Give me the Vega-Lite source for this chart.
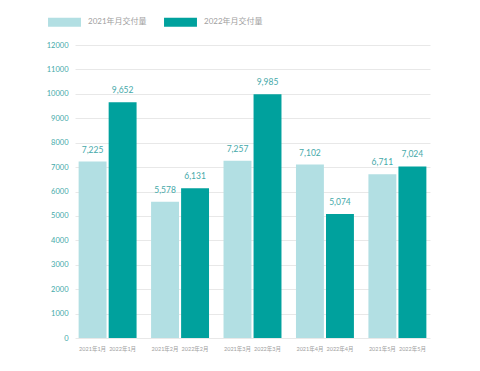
{
  "$schema": "https://vega.github.io/schema/vega-lite/v6.json",
  "width": 355,
  "height": 293,
  "autosize": {"type": "none"},
  "padding": {"left": 75, "top": 45, "right": 50, "bottom": 33},
  "background": "white",
  "config": {
    "font": "Lato, Noto Sans CJK SC",
    "view": {"stroke": null},
    "axisY": {
      "title": null, "format": "d", "ticks": false, "domain": false, "labelOverlap": false,
      "labelColor": "#45a9a9", "labelFontSize": 7.5, "labelPadding": 7,
      "gridColor": "#e8e8e8", "gridWidth": 1
    }
  },
  "data": {
    "values": [
      {"month": "1月", "series": "2021年月交付量", "label": "2021年1月", "value": 7225},
      {"month": "1月", "series": "2022年月交付量", "label": "2022年1月", "value": 9652},
      {"month": "2月", "series": "2021年月交付量", "label": "2021年2月", "value": 5578},
      {"month": "2月", "series": "2022年月交付量", "label": "2022年2月", "value": 6131},
      {"month": "3月", "series": "2021年月交付量", "label": "2021年3月", "value": 7257},
      {"month": "3月", "series": "2022年月交付量", "label": "2022年3月", "value": 9985},
      {"month": "4月", "series": "2021年月交付量", "label": "2021年4月", "value": 7102},
      {"month": "4月", "series": "2022年月交付量", "label": "2022年4月", "value": 5074},
      {"month": "5月", "series": "2021年月交付量", "label": "2021年5月", "value": 6711},
      {"month": "5月", "series": "2022年月交付量", "label": "2022年5月", "value": 7024}
    ]
  },
  "encoding": {
    "x": {
      "field": "month", "type": "nominal", "sort": null,
      "scale": {"paddingInner": 0.2, "paddingOuter": 0.05},
      "axis": null
    },
    "xOffset": {
      "field": "series", "type": "nominal",
      "scale": {"paddingInner": 0.07, "paddingOuter": 0}
    }
  },
  "layer": [
    {
      "mark": {"type": "bar"},
      "encoding": {
        "y": {
          "field": "value", "type": "quantitative",
          "scale": {"domain": [0, 12000], "nice": false},
          "axis": {"values": [0,1000,2000,3000,4000,5000,6000,7000,8000,9000,10000,11000,12000]}
        },
        "color": {
          "field": "series", "type": "nominal",
          "scale": {"domain": ["2021年月交付量", "2022年月交付量"], "range": ["#b2dfe3", "#00a19d"]},
          "legend": {
            "title": null, "orient": "none", "direction": "horizontal",
            "legendX": -19.5, "legendY": -32, "padding": 0,
            "symbolType": "M-1.83,-0.5H1.83V0.5H-1.83Z", "symbolSize": 324,
            "symbolStrokeWidth": 0, "symbolOpacity": 1,
            "labelOffset": 14.5, "labelColor": "#a0a0a0", "labelFontSize": 8,
            "columnPadding": 16
          }
        }
      }
    },
    {
      "mark": {"type": "text", "dy": -12, "fontSize": 8.5, "color": "#45a9a9"},
      "encoding": {
        "y": {"field": "value", "type": "quantitative",
          "axis": {"values": [0,1000,2000,3000,4000,5000,6000,7000,8000,9000,10000,11000,12000]}},
        "text": {"field": "value", "type": "quantitative", "format": ","}
      }
    },
    {
      "mark": {"type": "text", "dy": 11, "fontSize": 5.5, "color": "#a0a0a0"},
      "encoding": {
        "y": {"datum": 0, "type": "quantitative",
          "axis": {"values": [0,1000,2000,3000,4000,5000,6000,7000,8000,9000,10000,11000,12000]}},
        "text": {"field": "label", "type": "nominal"}
      }
    }
  ]
}
